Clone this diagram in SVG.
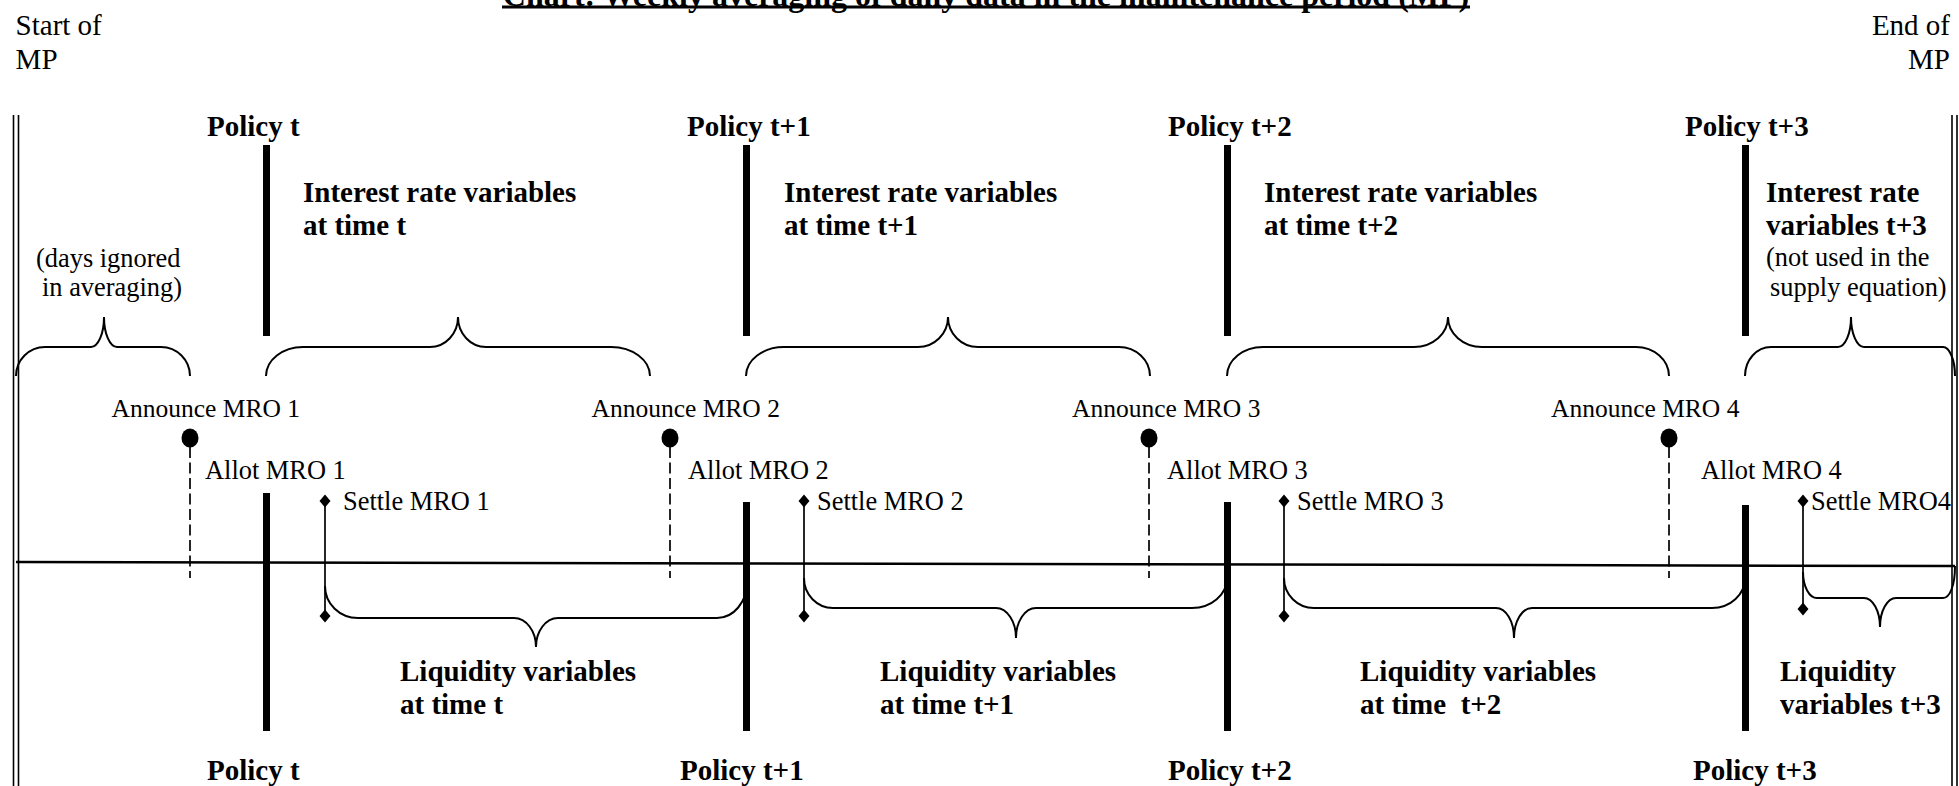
<svg xmlns="http://www.w3.org/2000/svg" width="1959" height="786" viewBox="0 0 1959 786">
<defs>
<style>
text{font-family:"Liberation Serif","Times New Roman",serif;fill:#000}
.b{font-weight:bold;font-size:29px}
.r{font-size:26.4px}
.ra{font-size:25.5px}
.rl{font-size:29px}
.thick{fill:#000}
.brace{fill:none;stroke:#000;stroke-width:2}
.dash{fill:none;stroke:#000;stroke-width:1.7;stroke-dasharray:11 4.5}
.settle{fill:none;stroke:#000;stroke-width:1.7}
.edge{fill:none;stroke:#000;stroke-width:1.6}
.dot{fill:#000}
.dia{fill:#000}
</style>
</defs>
<rect width="1959" height="786" fill="#fff"/>

<g id="title">
<text x="986" y="6" text-anchor="middle" class="b" style="font-size:32px">Chart: Weekly averaging of daily data in the maintenance period (MP)</text>
<rect x="502" y="5.5" width="968" height="3" fill="#000"/>
</g>

<g id="start-mp">
<text x="15.6" y="35" class="rl">Start of</text>
<text x="15.6" y="69" class="rl">MP</text>
<line class="edge" x1="13.5" y1="115" x2="13.5" y2="786"/>
<line class="edge" x1="18.5" y1="115" x2="18.5" y2="786"/>
</g>
<g id="end-mp">
<text x="1950" y="35" class="rl" text-anchor="end">End of</text>
<text x="1950" y="69" class="rl" text-anchor="end">MP</text>
<line class="edge" x1="1952" y1="115" x2="1952" y2="786"/>
<line class="edge" x1="1957" y1="115" x2="1957" y2="786"/>
</g>

<g id="policy-t">
<text x="207" y="136" class="b">Policy t</text>
<rect class="thick" x="263" y="145" width="7" height="191"/>
<rect class="thick" x="263" y="493" width="7" height="238"/>
<text x="207" y="780" class="b">Policy t</text>
</g>
<g id="policy-t1">
<text x="687" y="136" class="b">Policy t+1</text>
<rect class="thick" x="743" y="145" width="7" height="191"/>
<rect class="thick" x="743" y="502" width="7" height="229"/>
<text x="680" y="780" class="b">Policy t+1</text>
</g>
<g id="policy-t2">
<text x="1168" y="136" class="b">Policy t+2</text>
<rect class="thick" x="1224" y="145" width="7" height="191"/>
<rect class="thick" x="1224" y="502" width="7" height="229"/>
<text x="1168" y="780" class="b">Policy t+2</text>
</g>
<g id="policy-t3">
<text x="1685" y="136" class="b">Policy t+3</text>
<rect class="thick" x="1742" y="145" width="7" height="191"/>
<rect class="thick" x="1742" y="505" width="7" height="226"/>
<text x="1693" y="780" class="b">Policy t+3</text>
</g>

<g id="interest-t">
<text x="303" y="202" class="b">Interest rate variables</text>
<text x="303" y="235" class="b">at time t</text>
</g>
<g id="interest-t1">
<text x="784" y="202" class="b">Interest rate variables</text>
<text x="784" y="235" class="b">at time t+1</text>
</g>
<g id="interest-t2">
<text x="1264" y="202" class="b">Interest rate variables</text>
<text x="1264" y="235" class="b">at time t+2</text>
</g>
<g id="interest-t3">
<text x="1766" y="202" class="b">Interest rate</text>
<text x="1766" y="235" class="b">variables t+3</text>
<text x="1766" y="266" class="r">(not used in the</text>
<text x="1770" y="296" class="r">supply equation)</text>
</g>
<g id="days-ignored">
<text x="36" y="267" class="r">(days ignored</text>
<text x="42" y="296" class="r">in averaging)</text>
</g>

<g id="mro1">
<text x="111.6" y="417" class="ra">Announce MRO 1</text>
<ellipse class="dot" cx="190" cy="438" rx="8.5" ry="9.5"/>
<text x="205" y="479" class="r">Allot MRO 1</text>
<text x="343" y="510" class="r">Settle MRO 1</text>
</g>
<g id="mro2">
<text x="591.5" y="417" class="ra">Announce MRO 2</text>
<ellipse class="dot" cx="670" cy="438" rx="8.5" ry="9.5"/>
<text x="688" y="479" class="r">Allot MRO 2</text>
<text x="817" y="510" class="r">Settle MRO 2</text>
</g>
<g id="mro3">
<text x="1072" y="417" class="ra">Announce MRO 3</text>
<ellipse class="dot" cx="1149" cy="438" rx="8.5" ry="9.5"/>
<text x="1167" y="479" class="r">Allot MRO 3</text>
<text x="1297" y="510" class="r">Settle MRO 3</text>
</g>
<g id="mro4">
<text x="1551" y="417" class="ra">Announce MRO 4</text>
<ellipse class="dot" cx="1669" cy="438" rx="8.5" ry="9.5"/>
<text x="1701" y="479" class="r">Allot MRO 4</text>
<text x="1811" y="510" class="r">Settle MRO4</text>
</g>

<g id="liquidity-t">
<text x="400" y="681" class="b">Liquidity variables</text>
<text x="400" y="714" class="b">at time t</text>
</g>
<g id="liquidity-t1">
<text x="880" y="681" class="b">Liquidity variables</text>
<text x="880" y="714" class="b">at time t+1</text>
</g>
<g id="liquidity-t2">
<text x="1360" y="681" class="b">Liquidity variables</text>
<text x="1360" y="714" class="b">at time&#160; t+2</text>
</g>
<g id="liquidity-t3">
<text x="1780" y="681" class="b">Liquidity</text>
<text x="1780" y="714" class="b">variables t+3</text>
</g>

<g id="connectors">
<line x1="16" y1="562" x2="1955" y2="566" stroke="#000" stroke-width="2.5"/>
<line class="dash" x1="190" y1="447" x2="190" y2="578"/>
<line class="dash" x1="670" y1="447" x2="670" y2="578"/>
<line class="dash" x1="1149" y1="447" x2="1149" y2="578"/>
<line class="dash" x1="1669" y1="447" x2="1669" y2="578"/>
<line class="settle" x1="325" y1="501" x2="325" y2="616"/>
<line class="settle" x1="804" y1="501" x2="804" y2="616"/>
<line class="settle" x1="1284" y1="501" x2="1284" y2="616"/>
<line class="settle" x1="1803" y1="501" x2="1803" y2="609"/>
<path class="dia" d="M325,494.5 L330.5,501 L325,507.5 L319.5,501 Z M325,609.5 L330.5,616 L325,622.5 L319.5,616 Z"/>
<path class="dia" d="M804,494.5 L809.5,501 L804,507.5 L798.5,501 Z M804,609.5 L809.5,616 L804,622.5 L798.5,616 Z"/>
<path class="dia" d="M1284,494.5 L1289.5,501 L1284,507.5 L1278.5,501 Z M1284,609.5 L1289.5,616 L1284,622.5 L1278.5,616 Z"/>
<path class="dia" d="M1803,494.5 L1808.5,501 L1803,507.5 L1797.5,501 Z M1803,602.5 L1808.5,609 L1803,615.5 L1797.5,609 Z"/>
<path class="brace" d="M16,376 C16,360 29,347 45,347 L91,347 C98.2,347 104,333.6 104,317 C104,333.6 109.8,347 117,347 L161,347 C177,347 190,360 190,376"/>
<path class="brace" d="M266,376 C266,360 282.6,347 303,347 L430,347 C445.5,347 458,333.6 458,317 C458,333.6 470.5,347 486,347 L611,347 C632.5,347 650,360 650,376"/>
<path class="brace" d="M746,376 C746,360 763,347 784,347 L918,347 C934.6,347 948,333.6 948,317 C948,333.6 961.4,347 978,347 L1119,347 C1136,347 1150,360 1150,376"/>
<path class="brace" d="M1227,376 C1227,360 1243,347 1263,347 L1414,347 C1432.8,347 1448,333.6 1448,317 C1448,333.6 1463.2,347 1482,347 L1636,347 C1654.2,347 1669,360 1669,376"/>
<path class="brace" d="M1745,376 C1745,360 1756.6,347 1771,347 L1838,347 C1845.2,347 1851,333.6 1851,317 C1851,333.6 1856.8,347 1864,347 L1943,347 C1949.6,347 1955,360 1955,376"/>
<path class="brace" d="M325,586 C325,604 339.8,618 358,618 L514,618 C526.1,618 536,631 536,647 C536,631 545.9,618 558,618 L717,618 C733.6,618 747,602 747,582"/>
<path class="brace" d="M804,578 C804,594.6 817,608 833,608 L996,608 C1007,608 1016,621.4 1016,638 C1016,621.4 1025,608 1036,608 L1192,608 C1211.3,608 1227,594.6 1227,578"/>
<path class="brace" d="M1284,578 C1284,594.6 1297.4,608 1314,608 L1496,608 C1506,608 1514,621.4 1514,638 C1514,621.4 1522,608 1532,608 L1712,608 C1730.2,608 1745,594.6 1745,578"/>
<path class="brace" d="M1803,572 C1803,586.4 1809.3,598 1817,598 L1864,598 C1872.8,598 1880,611 1880,627 C1880,611 1887.2,598 1896,598 L1943,598 C1949.6,598 1955,586 1955,566"/>
</g>
</svg>
